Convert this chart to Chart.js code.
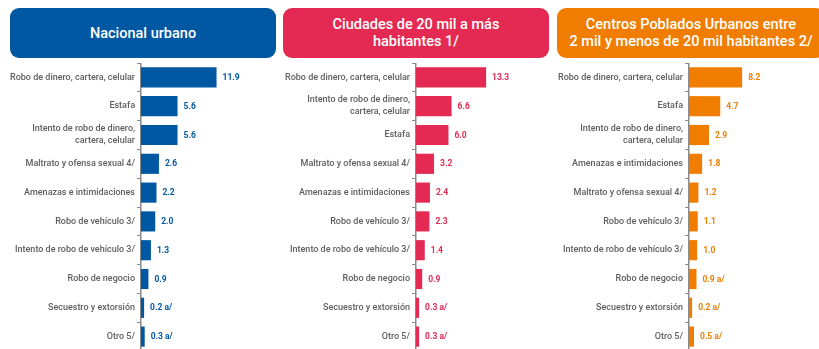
<!DOCTYPE html>
<html lang="es">
<head>
<meta charset="utf-8">
<title>Victimización por tipo de delito</title>
<script src="https://cdn.jsdelivr.net/npm/chart.js@4/dist/chart.umd.min.js"></script>
<style>
  html, body { margin: 0; padding: 0; background: #fff; overflow: hidden; }
  body { width: 819px; height: 349px; position: relative; font-family: Roboto, 'Noto Sans', sans-serif; }
  .head {
    position: absolute; top: 8px; height: 50px; border-radius: 9px;
    color: #fff; font-weight: 500; font-size: 14.5px; line-height: 17px;
    display: flex; align-items: center; justify-content: center; text-align: center;
  }
  .panel { position: absolute; top: 63px; height: 288px; }
</style>
</head>
<body>
<div class="head" style="left:10px;width:266px;background:#0058a3;">Nacional urbano</div>
<div class="head" style="left:283px;width:266px;background:#e42a52;">Ciudades de 20 mil a más<br>habitantes 1/</div>
<div class="head" style="left:557px;width:268px;background:#f07d00;">Centros Poblados Urbanos entre<br>2 mil y menos de 20 mil habitantes 2/</div>

<div class="panel" style="left:0;width:276px;"><canvas id="nacionalChart"></canvas></div>
<div class="panel" style="left:280px;width:270px;"><canvas id="ciudadesChart"></canvas></div>
<div class="panel" style="left:555px;width:264px;"><canvas id="centrosChart"></canvas></div>

<script>
// Delitos por ámbito (%)
const nacionalLabels = [
  'Robo de dinero, cartera, celular', 'Estafa', ['Intento de robo de dinero,', 'cartera, celular'],
  'Maltrato y ofensa sexual 4/', 'Amenazas e intimidaciones', 'Robo de vehículo 3/',
  'Intento de robo de vehículo 3/', 'Robo de negocio', 'Secuestro y extorsión', 'Otro 5/'
];
const nacionalValues = [11.9, 5.6, 5.6, 2.6, 2.2, 2.0, 1.3, 0.9, 0.2, 0.3];
const nacionalNotes = ['', '', '', '', '', '', '', '', 'a/', 'a/'];

const ciudadesLabels = [
  'Robo de dinero, cartera, celular', ['Intento de robo de dinero,', 'cartera, celular'], 'Estafa',
  'Maltrato y ofensa sexual 4/', 'Amenazas e intimidaciones', 'Robo de vehículo 3/',
  'Intento de robo de vehículo 3/', 'Robo de negocio', 'Secuestro y extorsión', 'Otro 5/'
];
const ciudadesValues = [13.3, 6.6, 6.0, 3.2, 2.4, 2.3, 1.4, 0.9, 0.3, 0.3];
const ciudadesNotes = ['', '', '', '', '', '', '', '', 'a/', 'a/'];

const centrosLabels = [
  'Robo de dinero, cartera, celular', 'Estafa', ['Intento de robo de dinero,', 'cartera, celular'],
  'Amenazas e intimidaciones', 'Maltrato y ofensa sexual 4/', 'Robo de vehículo 3/',
  'Intento de robo de vehículo 3/', 'Robo de negocio', 'Secuestro y extorsión', 'Otro 5/'
];
const centrosValues = [8.2, 4.7, 2.9, 1.8, 1.2, 1.1, 1.0, 0.9, 0.2, 0.5];
const centrosNotes = ['', '', '', '', '', '', '', 'a/', 'a/', 'a/'];

Chart.defaults.font.family = 'Roboto, "Noto Sans", sans-serif';

// etiqueta de valor al final de cada barra
const valueLabels = {
  id: 'valueLabels',
  afterDatasetsDraw(chart) {
    const { ctx } = chart;
    const ds = chart.data.datasets[0];
    const notes = chart.options.plugins.valueLabels.notes;
    ctx.save();
    ctx.font = 'bold 8.5px Roboto, "Noto Sans", sans-serif';
    ctx.fillStyle = ds.backgroundColor;
    ctx.textBaseline = 'middle';
    chart.getDatasetMeta(0).data.forEach((bar, i) => {
      const txt = ds.data[i].toFixed(1) + (notes[i] ? ' ' + notes[i] : '');
      ctx.fillText(txt, bar.x + 6, bar.y + 0.5);
    });
    ctx.restore();
  }
};

function makeChart(id, labels, values, notes, color, axisWidth, xMax) {
  return new Chart(document.getElementById(id), {
    type: 'bar',
    data: { labels, datasets: [{ data: values, backgroundColor: color, base: -0.3,
      categoryPercentage: 1, barPercentage: 0.7 }] },
    options: {
      indexAxis: 'y', responsive: true, maintainAspectRatio: false, animation: false,
      layout: { padding: 0 },
      plugins: { legend: { display: false }, tooltip: { enabled: false }, valueLabels: { notes } },
      scales: {
        x: { display: false, min: -0.3, max: xMax },
        y: {
          afterFit: s => { s.width = axisWidth; s.paddingTop = 0; s.paddingBottom = 0; },
          border: { color: '#8a8a8a', width: 1.5 },
          grid: { drawOnChartArea: false, drawTicks: true, tickLength: 4, color: '#8a8a8a', lineWidth: 1 },
          ticks: { color: '#5e5e5e', padding: 2, font: { size: 9, weight: 500, lineHeight: 1.33 }, autoSkip: false }
        }
      }
    },
    plugins: [valueLabels]
  });
}

makeChart('nacionalChart', nacionalLabels, nacionalValues, nacionalNotes, '#0058a3', 141, 21.5);
makeChart('ciudadesChart', ciudadesLabels, ciudadesValues, ciudadesNotes, '#e42a52', 136, 25.7);
makeChart('centrosChart', centrosLabels, centrosValues, centrosNotes, '#f07d00', 134, 20.5);
</script>
</body>
</html>
